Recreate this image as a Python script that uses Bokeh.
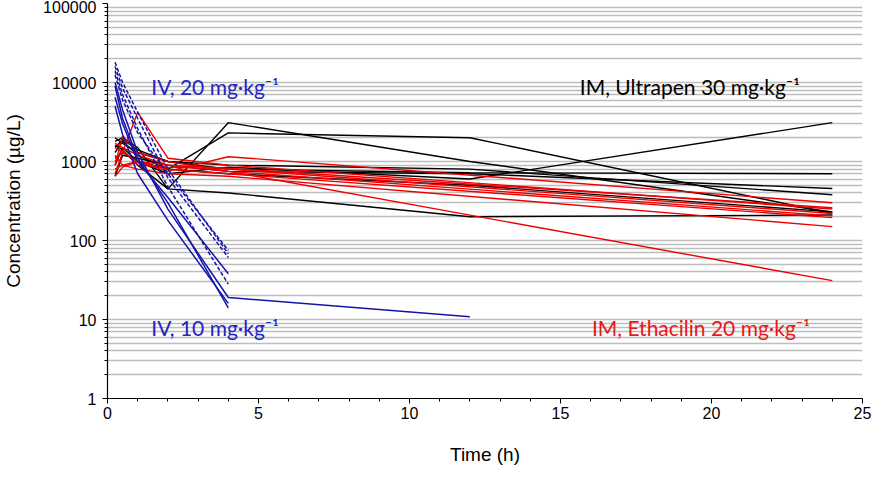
from bokeh.plotting import figure
from bokeh.models import FixedTicker, Label, NumeralTickFormatter
from bokeh.embed import file_html
from bokeh.resources import INLINE

# ---------------- data ----------------
T_IV = [0.25, 0.5, 1, 2, 4]
T_IV_LONG = [0.25, 0.5, 1, 2, 4, 12]
T_ETH = [0.25, 0.5, 1, 2, 4, 24]
T_ULT = [0.25, 0.5, 1, 2, 4, 12, 24]

# IV 20 mg/kg (dashed blue)
iv20_1 = [18000, 10000, 4200, 800, 68]
iv20_2 = [16000, 8500, 3500, 620, 61]
iv20_3 = [14000, 7000, 2600, 480, 28]
iv20_4 = [12500, 6000, 2300, 700, 75]

# IV 10 mg/kg (solid blue)
iv10_1 = [10000, 4500, 1300, 250, 19, 10.8]
iv10_2 = [9000, 3500, 1100, 300, 14]
iv10_3 = [6500, 3000, 1000, 350, 38]
iv10_4 = [5000, 2200, 700, 180, 16]

# IM Ethacilin 20 mg/kg (red)
eth_1 = [700, 1300, 4200, 1100, 900, 250]
eth_2 = [1700, 1500, 1200, 900, 750, 31]
eth_3 = [1200, 900, 1000, 750, 1150, 300]
eth_4 = [900, 2100, 1300, 1000, 750, 205]
eth_5 = [650, 850, 1000, 800, 700, 195]
eth_6 = [1000, 1400, 900, 850, 800, 220]
eth_7 = [800, 900, 800, 700, 650, 150]
eth_8 = [1500, 1300, 1000, 900, 820, 260]

# IM Ultrapen 30 mg/kg (black)
ult_1 = [1800, 2000, 1500, 450, 3100, 1000, 230]
ult_2 = [1300, 1800, 1200, 800, 2300, 2000, 220]
ult_3 = [900, 1500, 1000, 700, 850, 600, 3100]
ult_4 = [1600, 1400, 900, 450, 400, 200, 210]
ult_5 = [2000, 1700, 1300, 1000, 800, 720, 700]
ult_6 = [650, 1200, 1100, 900, 750, 700, 455]
ult_7 = [1500, 1900, 1400, 1000, 900, 800, 380]
ult_8 = [1100, 1300, 1000, 800, 700, 500, 230]

Y_MAJOR = [1, 10, 100, 1000, 10000, 100000]
X_MAJOR = [0, 5, 10, 15, 20, 25]

BLUE = "#1414aa"
RED = "#ee0000"
BLACK = "#000000"

p = figure(width=880, height=467, y_axis_type="log",
           x_range=(0, 25), y_range=(1, 100000),
           output_backend="svg", toolbar_location=None,
           min_border_left=106, min_border_right=18,
           min_border_top=3, min_border_bottom=66)
p.outline_line_color = None
p.background_fill_color = "white"
p.border_fill_color = "white"

y_minor = [m * d for d in Y_MAJOR[:-1] for m in range(2, 10)]
p.yaxis.ticker = FixedTicker(ticks=Y_MAJOR, minor_ticks=y_minor)
p.ygrid.ticker = FixedTicker(ticks=Y_MAJOR, minor_ticks=y_minor)
p.xaxis.ticker = FixedTicker(ticks=X_MAJOR, minor_ticks=list(range(0, 26)))
p.yaxis.formatter = NumeralTickFormatter(format="0")

p.xgrid.grid_line_color = None
p.ygrid.grid_line_color = "#bdbdbd"
p.ygrid.grid_line_width = 1.5
p.ygrid.minor_grid_line_color = "#bdbdbd"
p.ygrid.minor_grid_line_width = 1.5

for ax in (p.xaxis, p.yaxis):
    ax.axis_line_color = "black"
    ax.axis_line_width = 1.2
    ax.major_tick_line_color = "black"
    ax.minor_tick_line_color = "black"
    ax.major_tick_in = 0
    ax.major_tick_out = 5
    ax.minor_tick_in = 0
    ax.minor_tick_out = 3
    ax.major_label_text_font = "Liberation Sans"
    ax.major_label_text_font_size = "16px"
    ax.major_label_text_color = "black"
    ax.axis_label_text_font = "Liberation Sans"
    ax.axis_label_text_font_size = "19px"
    ax.axis_label_text_font_style = "normal"
    ax.axis_label_text_color = "black"

p.xaxis.axis_label = "Time (h)"
p.yaxis.axis_label = "Concentration (µg/L)"
p.xaxis.major_label_standoff = 3
p.yaxis.major_label_standoff = 6
p.xaxis.axis_label_standoff = 22
p.yaxis.axis_label_standoff = 16

for ys in (ult_1, ult_2, ult_3, ult_4, ult_5, ult_6, ult_7, ult_8):
    p.line(T_ULT, ys, line_color=BLACK, line_width=1.4)

for ys in (eth_1, eth_2, eth_3, eth_4, eth_5, eth_6, eth_7, eth_8):
    p.line(T_ETH, ys, line_color=RED, line_width=1.4)

p.line(T_IV_LONG, iv10_1, line_color=BLUE, line_width=1.5)
for ys in (iv10_2, iv10_3, iv10_4):
    p.line(T_IV, ys, line_color=BLUE, line_width=1.5)
for ys in (iv20_1, iv20_2, iv20_3, iv20_4):
    p.line(T_IV, ys, line_color=BLUE, line_width=1.5, line_dash="4 2")

labels = [
    (1.45, 8900, "IV, 20 mg·kg⁻¹", "#2424c4", "left"),
    (15.64, 8900, "IM, Ultrapen 30 mg·kg⁻¹", "#000000", "left"),
    (1.45, 7.9, "IV, 10 mg·kg⁻¹", "#2424c4", "left"),
    (19.65, 7.9, "IM, Ethacilin 20 mg·kg⁻¹", "#e81818", "center"),
]
for x, y, txt, col, al in labels:
    p.add_layout(Label(x=x, y=y, text=txt, text_color=col,
                       text_font="Lato", text_font_size="21px",
                       text_baseline="middle", text_align=al))

open("out.html", "w").write(file_html(p, INLINE))
